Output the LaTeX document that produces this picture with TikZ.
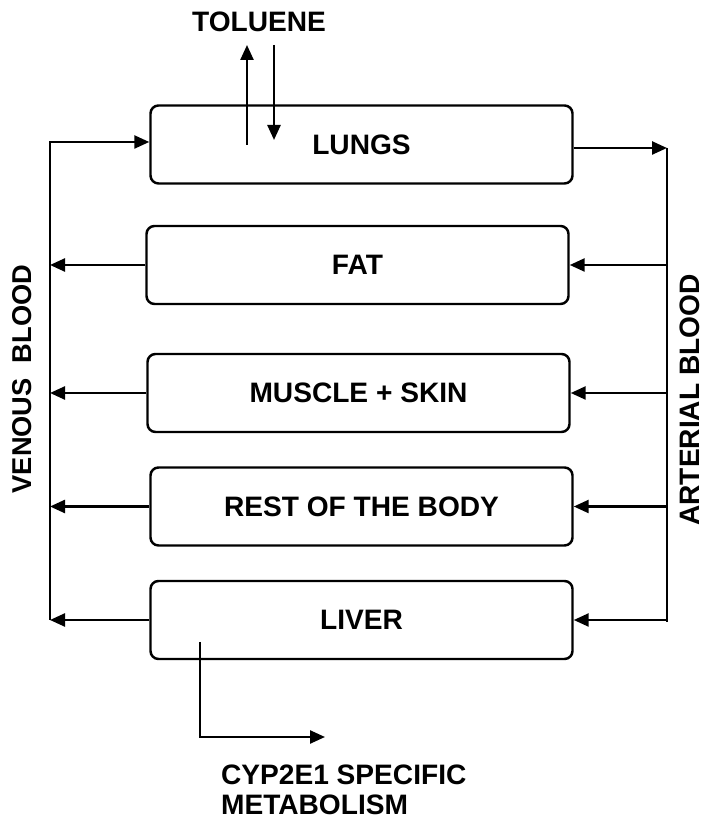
\documentclass[tikz,border=0pt]{standalone}
\usepackage{fontspec}
\setmainfont{Liberation Sans}
\usetikzlibrary{arrows.meta}

\begin{document}
\begin{tikzpicture}[x=2mm,y=2mm,>={Triangle[length=3mm,width=2.6mm]},
    line width=1.4pt,
    font=\fontsize{16}{17}\selectfont\bfseries,
    organ/.style={draw,rounded corners=1.6mm,minimum width=8.44cm,minimum height=1.56cm}]
  \useasboundingbox (0,0) rectangle (70.7,82.7);
  % compartments
  \node[organ] (lungs)  at (36.15,68.25) {LUNGS};
  \node[organ] (fat)    at (35.75,56.2)  {FAT};
  \node[organ] (muscle) at (35.85,43.4)  {MUSCLE + SKIN};
  \node[organ] (rest)   at (36.15,32.05) {REST OF THE BODY};
  \node[organ] (liver)  at (36.15,20.7)  {LIVER};
  % blood lines
  \coordinate (vtop) at (5,68.5);  \coordinate (vbot) at (5,20.7);
  \coordinate (atop) at (66.7,67.9); \coordinate (abot) at (66.7,20.5);
  \node[rotate=90,font=\fontsize{15.5}{17}\selectfont\bfseries] (venous) at (2.2,44.8) {VENOUS\ \ BLOOD};
  \node[rotate=90] (arterial) at (69.0,42.7) {ARTERIAL BLOOD};
  \draw[->] (vbot) -- (vtop) -- (vtop -| lungs.west);
  \draw (atop) -- (abot);
  \draw[->] (lungs.east |- atop) -- (atop);
  \foreach \o in {fat,muscle,rest,liver}
    {\draw[->] (\o.west) -- (\o.west -| vbot); \draw[->] (\o.east -| atop) -- (\o.east);}
  % toluene in and out
  \node (toluene) at (25.9,80.5) {TOLUENE};
  \coordinate (exhale) at (24.7,68.2); \coordinate (inhale) at (27.4,68.7);
  \draw[->] (exhale) -- ++(0,10);
  \draw[->] (inhale |- 0,78.2) -- (inhale);
  % metabolism
  \coordinate (met) at (20,18.5); \coordinate (metend) at (32.5,9.0);
  \draw[->] (met) |- (metend);
  \node[anchor=west,align=left] (cyp) at (21.4,3.7) {CYP2E1 SPECIFIC\\METABOLISM};
\end{tikzpicture}
\end{document}
